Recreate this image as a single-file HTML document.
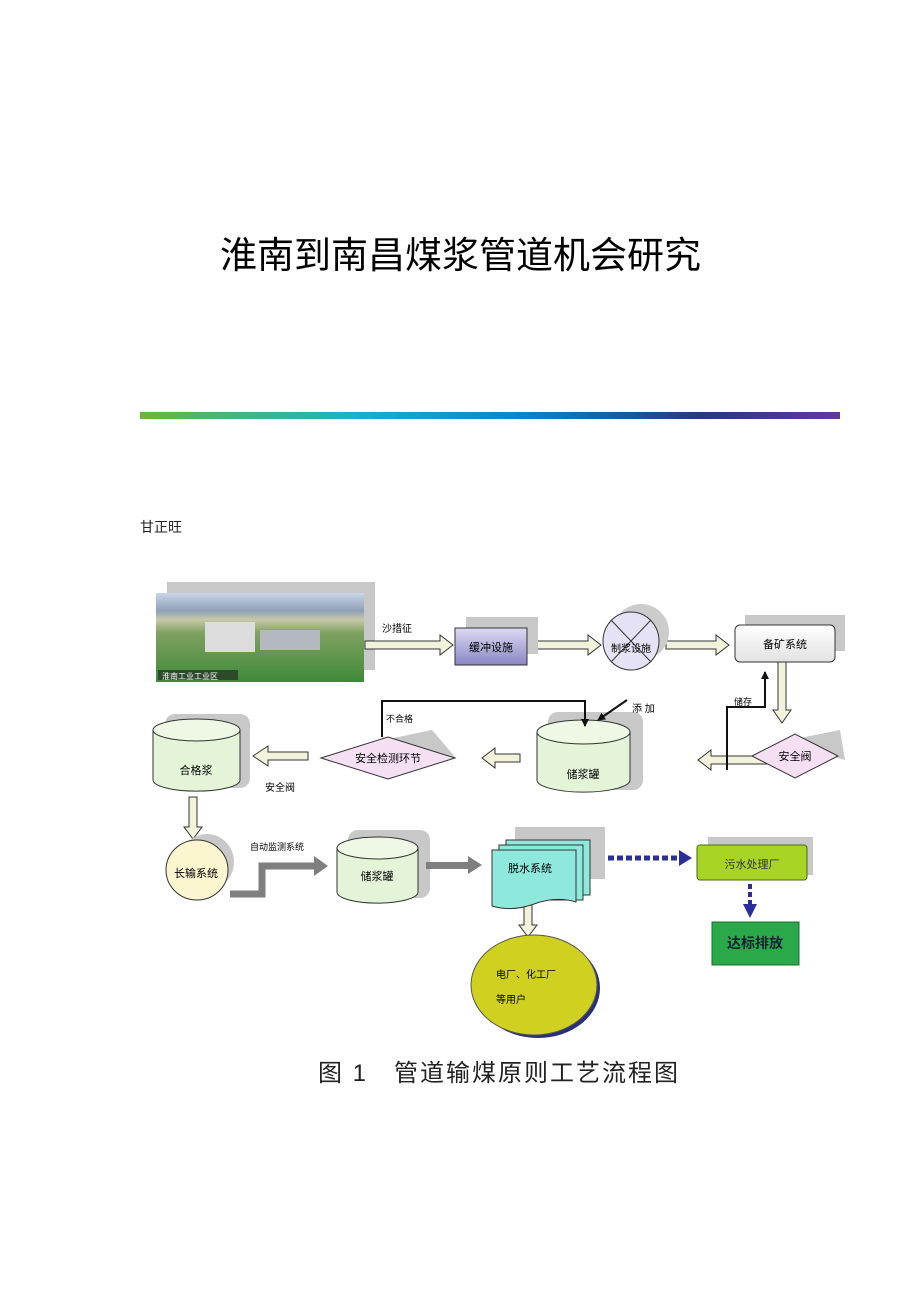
<!DOCTYPE html>
<html><head><meta charset="utf-8"><style>
html,body{margin:0;padding:0;background:#fff;width:920px;height:1302px;overflow:hidden}
svg{display:block}
text{font-family:"Liberation Sans","Noto Sans CJK SC",sans-serif}
</style></head><body>
<svg width="920" height="1302" viewBox="0 0 920 1302" xmlns="http://www.w3.org/2000/svg">
<defs>
<linearGradient id="bar" x1="0" x2="1"><stop offset="0" stop-color="#6db33f"/><stop offset="0.3" stop-color="#1ab3c4"/><stop offset="0.55" stop-color="#0a85c8"/><stop offset="0.8" stop-color="#253a75"/><stop offset="1" stop-color="#6437a0"/></linearGradient>
<linearGradient id="sky" x1="0" y1="0" x2="0" y2="1"><stop offset="0" stop-color="#c9d6ea"/><stop offset="0.2" stop-color="#8fa0b8"/><stop offset="0.3" stop-color="#c8c8a8"/><stop offset="0.45" stop-color="#7fa060"/><stop offset="1" stop-color="#3f8a3a"/></linearGradient>
<linearGradient id="pur" x1="0" y1="0" x2="0" y2="1"><stop offset="0" stop-color="#dcdaf2"/><stop offset="1" stop-color="#8a86c4"/></linearGradient>
<linearGradient id="gry" x1="0" y1="0" x2="0" y2="1"><stop offset="0" stop-color="#fff"/><stop offset="1" stop-color="#e2e2e2"/></linearGradient>
<marker id="ah" markerWidth="8" markerHeight="8" refX="7" refY="4" orient="auto" markerUnits="userSpaceOnUse"><path d="M0,0 L8,4 L0,8 z" fill="#111"/></marker>
</defs>
<text x="220" y="268" font-size="37" font-family="'Noto Serif CJK SC','AR PL UKai CN',serif" fill="#000">淮南到南昌煤浆管道机会研究</text>
<rect x="140" y="412" width="700" height="7" fill="url(#bar)"/>
<text x="140" y="532" font-size="14" fill="#222">甘正旺</text>

<rect x="167" y="582" width="208" height="88" fill="#c8c8c8"/>
<rect x="156" y="593" width="208" height="89" fill="url(#sky)"/>
<rect x="205" y="622" width="50" height="30" fill="#dcdcdc"/>
<rect x="260" y="630" width="60" height="20" fill="#b4b8c0"/>
<rect x="158" y="670" width="80" height="10" fill="#2d4a2a"/>
<text x="162" y="679" font-size="8" fill="#fff">淮南工业工业区</text>

<g fill="#f3f3dc" stroke="#333" stroke-width="1">
<path d="M365,641 h75 v-6 l13,10 l-13,10 v-6 h-75 z"/>
<path d="M530,641 h58 v-6 l13,10 l-13,10 v-6 h-58 z"/>
<path d="M666,641 h50 v-6 l13,10 l-13,10 v-6 h-50 z"/>
<path d="M778,662 h8 v48 h5 l-9,13 l-9,-13 h5 z"/>
<path d="M773,756 h-62 v-6 l-13,10 l13,10 v-6 h62 z"/>
<path d="M520,754 h-25 v-6 l-13,10 l13,10 v-6 h25 z"/>
<path d="M308,752 h-40 v-6 l-15,10 l15,10 v-6 h40 z"/>
<path d="M189,797 h8 v30 h5 l-9,12 l-9,-12 h5 z"/>
<path d="M524,887 h8 v38 h5 l-9,12 l-9,-12 h5 z"/>
</g>
<text x="382" y="632" font-size="10">沙措征</text>

<rect x="466" y="617" width="72" height="37" fill="#c8c8c8"/>
<rect x="455" y="628" width="72" height="37" fill="url(#pur)" stroke="#333"/>
<text x="491" y="651" font-size="11" text-anchor="middle">缓冲设施</text>

<ellipse cx="641" cy="632" rx="28" ry="28" fill="#ccc"/>
<ellipse cx="631" cy="641" rx="28" ry="29" fill="#e4e2f4" stroke="#333"/>
<line x1="611" y1="620" x2="651" y2="662" stroke="#333"/><line x1="651" y1="620" x2="611" y2="662" stroke="#333"/>
<text x="631" y="652" font-size="10" text-anchor="middle">制浆设施</text>

<rect x="745" y="615" width="100" height="36" fill="#c8c8c8"/>
<rect x="735" y="625" width="100" height="37" rx="5" fill="url(#gry)" stroke="#333"/>
<text x="785" y="648" font-size="11" text-anchor="middle">备矿系统</text>

<path d="M780,742 L840,730 L845,760 Z" fill="#c8c8c8"/>
<path d="M752,756 L795,734 L838,756 L795,778 Z" fill="#f4e0f2" stroke="#333"/>
<text x="795" y="760" font-size="11" text-anchor="middle">安全阀</text>
<polyline points="727,770 727,707 765,707 765,672" fill="none" stroke="#111" stroke-width="2" marker-end="url(#ah)"/>
<text x="734" y="705" font-size="9">储存</text>

<rect x="548" y="712" width="95" height="78" rx="10" fill="#c8c8c8"/>
<path d="M537,732 v48 a46,12 0 0 0 93,0 v-48" fill="#e4f4d8" stroke="#333"/>
<ellipse cx="583.5" cy="732" rx="46.5" ry="12" fill="#eef8e4" stroke="#333"/>
<text x="583" y="778" font-size="11" text-anchor="middle">储浆罐</text>
<line x1="627" y1="700" x2="598" y2="720" stroke="#111" stroke-width="2" marker-end="url(#ah)"/>
<text x="632" y="712" font-size="10">添 加</text>

<path d="M360,745 L432,730 L456,758 Z" fill="#c8c8c8"/>
<path d="M321,758 L388,737 L455,758 L388,779 Z" fill="#f4e0f2" stroke="#333"/>
<text x="388" y="762" font-size="11" text-anchor="middle">安全检测环节</text>
<polyline points="382,737 382,701 585,701 585,726" fill="none" stroke="#111" stroke-width="2" marker-end="url(#ah)"/>
<text x="386" y="722" font-size="9">不合格</text>

<rect x="165" y="714" width="85" height="74" rx="10" fill="#c8c8c8"/>
<path d="M153,730 v50 a43,11 0 0 0 87,0 v-50" fill="#e4f4d8" stroke="#333"/>
<ellipse cx="196.5" cy="730" rx="43.5" ry="11" fill="#eef8e4" stroke="#333"/>
<text x="196" y="774" font-size="11" text-anchor="middle">合格浆</text>
<text x="265" y="791" font-size="10">安全阀</text>

<ellipse cx="207" cy="862" rx="27" ry="28" fill="#c8c8c8"/>
<ellipse cx="197" cy="870" rx="31" ry="30" fill="#fbf6d0" stroke="#333"/>
<text x="196" y="877" font-size="11" text-anchor="middle">长输系统</text>
<polyline points="230,894 262,894 262,866 316,866" fill="none" stroke="#7f7f7f" stroke-width="7"/>
<path d="M314,856 L328,866 L314,876 Z" fill="#7f7f7f"/>
<text x="250" y="850" font-size="9">自动监测系统</text>

<rect x="348" y="830" width="82" height="68" rx="10" fill="#c8c8c8"/>
<path d="M337,848 v44 a40,11 0 0 0 81,0 v-44" fill="#e4f4d8" stroke="#333"/>
<ellipse cx="377.5" cy="848" rx="40.5" ry="11" fill="#eef8e4" stroke="#333"/>
<text x="377" y="880" font-size="11" text-anchor="middle">储浆罐</text>
<rect x="426" y="862" width="44" height="7" fill="#7f7f7f"/><path d="M468,856 L482,865 L468,874 Z" fill="#7f7f7f"/>

<rect x="515" y="827" width="90" height="52" fill="#c8c8c8"/>
<path d="M506,840 h84 v55 h-84 z" fill="#8fe8dc" stroke="#333"/>
<path d="M499,845 h84 v55 h-84 z" fill="#8fe8dc" stroke="#333"/>
<path d="M492,850 h84 v52 q-20,-6 -42,2 q-22,8 -42,2 z" fill="#8fe8dc" stroke="#333"/>
<text x="530" y="872" font-size="11" text-anchor="middle">脱水系统</text>
<line x1="608" y1="858" x2="680" y2="858" stroke="#2a2f9a" stroke-width="5" stroke-dasharray="6,3"/>
<path d="M679,850 L692,858 L679,866 Z" fill="#2a2f9a"/>

<rect x="708" y="837" width="105" height="38" fill="#c8c8c8"/>
<rect x="697" y="845" width="110" height="35" rx="3" fill="#a8d426" stroke="#4a6a10"/>
<text x="752" y="868" font-size="11" text-anchor="middle" fill="#333">污水处理厂</text>
<line x1="750" y1="884" x2="750" y2="906" stroke="#2a2f9a" stroke-width="4" stroke-dasharray="5,3"/>
<path d="M743,904 L750,918 L757,904 Z" fill="#2a2f9a"/>
<rect x="712" y="922" width="87" height="43" fill="#2aa84a" stroke="#1a7030"/>
<text x="755" y="948" font-size="14" font-weight="bold" text-anchor="middle" fill="#123">达标排放</text>

<ellipse cx="538" cy="988" rx="62" ry="50" fill="#2a2f7a"/>
<ellipse cx="534" cy="985" rx="63" ry="50" fill="#d0d020" stroke="#555"/>
<text x="496" y="978" font-size="10">电厂、化工厂</text>
<text x="496" y="1003" font-size="10">等用户</text>

<text x="318" y="1081" font-size="24" letter-spacing="2" font-family="'Noto Serif CJK SC',serif" fill="#222">图 1　管道输煤原则工艺流程图</text>
</svg>
</body></html>
